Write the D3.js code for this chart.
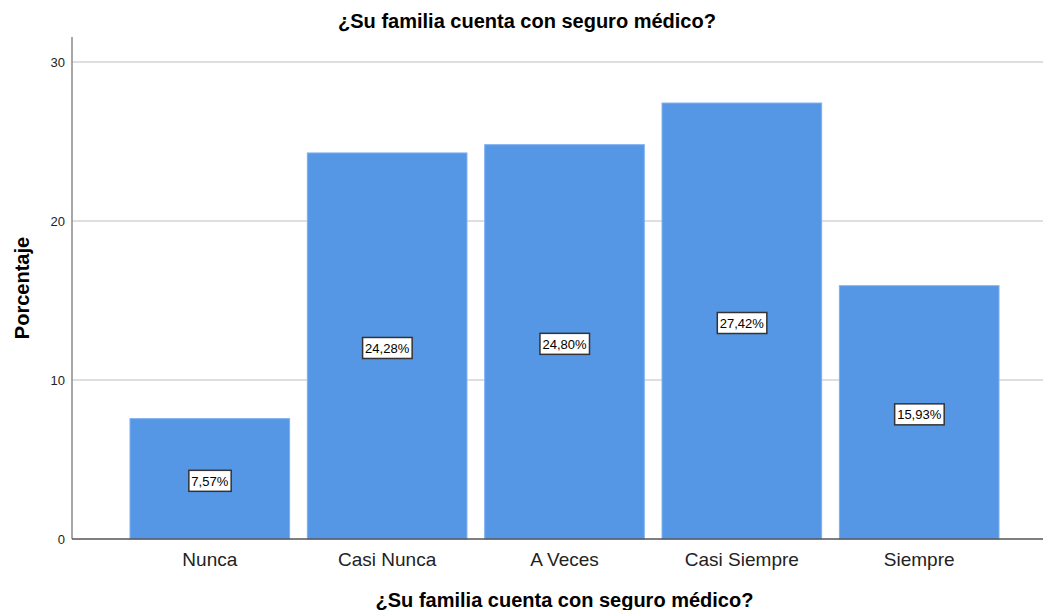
<!DOCTYPE html>
<html><head><meta charset="utf-8">
<script src="https://cdn.jsdelivr.net/npm/d3@7"></script>
<style>body{margin:0;background:#fff}svg{display:block}text{font-family:"Liberation Sans",Arial,sans-serif}</style>
</head><body><svg id="c" width="1043" height="610"></svg>
<script>
const categories = ["Nunca","Casi Nunca","A Veces","Casi Siempre","Siempre"];
const values = [7.57, 24.28, 24.80, 27.42, 15.93];
const valueLabels = ["7,57%","24,28%","24,80%","27,42%","15,93%"];
const yTicks = [0,10,20,30];
const title = "¿Su familia cuenta con seguro médico?";
const yTitle = "Porcentaje";

const svg = d3.select("#c");
const pLeft = 72, pRight = 1057, pTop = 37, pBottom = 539;
const x = d3.scaleBand().domain(categories).range([pLeft,pRight]).paddingInner(0.1).paddingOuter(0.327);
const y = d3.scaleLinear().domain([0,30]).range([pBottom, pBottom - 30*15.9]);

// gridlines
svg.append("g").selectAll("line").data(yTicks.filter(d=>d>0)).join("line")
  .attr("x1",pLeft).attr("x2",1043).attr("y1",d=>y(d)).attr("y2",d=>y(d))
  .attr("stroke","#d4d4d4").attr("stroke-width",1.5);

// bars
svg.append("g").selectAll("rect").data(values).join("rect")
  .attr("x",(d,i)=>x(categories[i])).attr("width",x.bandwidth())
  .attr("y",d=>y(d)).attr("height",d=>pBottom-y(d))
  .attr("fill","#5596e5").attr("stroke","#7eb0ee").attr("stroke-width",1);

// y axis
const ya = d3.axisLeft(y).tickValues(yTicks).tickSize(0).tickPadding(7).tickFormat(d3.format("d"));
const gy = svg.append("g").attr("transform",`translate(${pLeft},0)`).call(ya);
gy.select(".domain").remove();
gy.selectAll("text").attr("font-size",13).attr("fill","#222").style("font-family","Liberation Sans, Arial, sans-serif");
svg.append("line").attr("x1",pLeft).attr("x2",pLeft).attr("y1",pTop).attr("y2",pBottom).attr("stroke","#8a8a8a").attr("stroke-width",1.5);

// x axis
const xa = d3.axisBottom(x).tickSize(0).tickPadding(14);
const gx = svg.append("g").attr("transform",`translate(0,${pBottom})`).call(xa);
gx.select(".domain").remove();
gx.selectAll("text").attr("font-size",19).attr("fill","#222").style("font-family","Liberation Sans, Arial, sans-serif");
svg.append("line").attr("x1",pLeft).attr("x2",1043).attr("y1",pBottom).attr("y2",pBottom).attr("stroke","#555").attr("stroke-width",1.5);

// value labels
const lg = svg.append("g").selectAll("g").data(values).join("g")
  .attr("transform",(d,i)=>`translate(${x(categories[i])+x.bandwidth()/2},${y(d/2)+2})`);
lg.each(function(d,i){
  const g = d3.select(this);
  const t = g.append("text").attr("text-anchor","middle").attr("dy","0.36em")
    .attr("font-size",13).attr("fill","#000").text(valueLabels[i]);
  const bb = t.node().getBBox();
  g.insert("rect","text").attr("x",bb.x-2.5).attr("y",-10.5).attr("width",bb.width+5).attr("height",21)
    .attr("fill","#fff").attr("stroke","#333").attr("stroke-width",1.5);
});

// titles
svg.append("text").attr("x",527).attr("y",28).attr("text-anchor","middle")
  .attr("font-size",20).attr("font-weight","bold").attr("fill","#000").text(title);
svg.append("text").attr("x",(pLeft+pRight)/2).attr("y",607).attr("text-anchor","middle")
  .attr("font-size",20).attr("font-weight","bold").attr("fill","#000").text(title);
svg.append("text").attr("transform","translate(29,288) rotate(-90)").attr("text-anchor","middle")
  .attr("font-size",20).attr("font-weight","bold").attr("fill","#000").text(yTitle);
</script></body></html>
